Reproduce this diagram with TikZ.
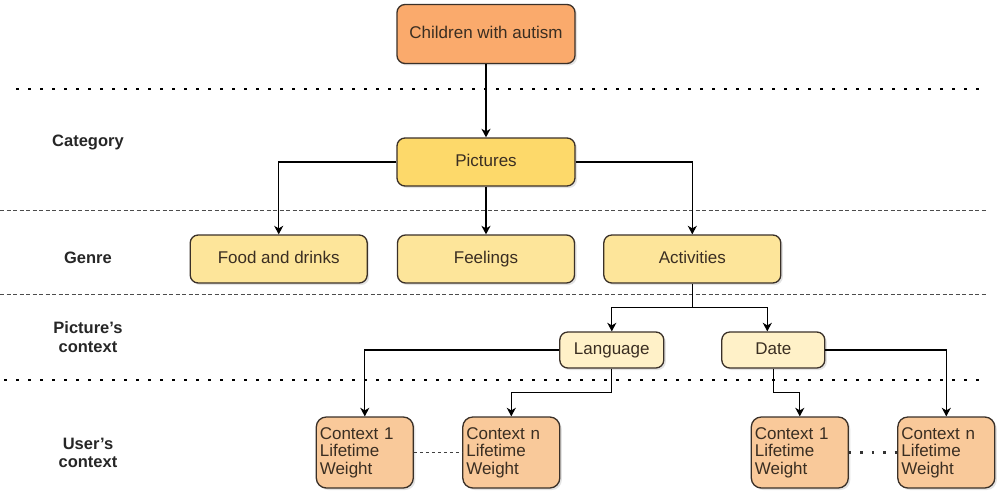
\documentclass[tikz,border=0pt]{standalone}
\usepackage{fontspec}
\setmainfont{Liberation Sans}
\usetikzlibrary{positioning,arrows.meta,shadows}
\usetikzlibrary{calc}

\definecolor{rootFill}{HTML}{FAAA6C}
\definecolor{categoryFill}{HTML}{FDD96A}
\definecolor{genreFill}{HTML}{FDE59A}
\definecolor{contextFill}{HTML}{FFF1C8}
\definecolor{userFill}{HTML}{F9C99A}
\definecolor{boxBorder}{HTML}{3A3028}
\definecolor{boxText}{HTML}{3A2E22}

\begin{document}
\begin{tikzpicture}
  \newdimen\gap
  \gap=47.7pt

  \tikzstyle{box} = [
    % The shape:
    rectangle, rounded corners=8pt,
    % The border:
    line width=1.3pt,
    draw=boxBorder,
    drop shadow={opacity=0.22, shadow xshift=2pt, shadow yshift=-2pt},
    % Font:
    text=boxText,
    font=\fontsize{17}{17.5}\selectfont
  ];
  \tikzstyle{oneLine} = [box, text height=12.4pt, text depth=3.6pt];
  \tikzstyle{rootBox} = [oneLine, fill=rootFill, minimum width=178pt, minimum height=59pt];
  \tikzstyle{categoryBox} = [oneLine, fill=categoryFill, minimum width=178pt, minimum height=48pt];
  \tikzstyle{genreBox} = [oneLine, fill=genreFill, minimum width=177pt, minimum height=48pt];
  \tikzstyle{contextBox} = [oneLine, fill=contextFill, minimum width=104pt, minimum height=36pt];
  \tikzstyle{userBox} = [
    box, fill=userFill, rounded corners=10pt,
    minimum height=71pt, text width=90pt, inner sep=3.5pt, align=left
  ];
  \tikzstyle{annotation} = [
    % Just text!
    font=\bfseries\fontsize{16.5}{18.5}\selectfont,
    text=black!85, align=center
  ];
  \tikzstyle{flow} = [
    draw = black,
    line width=1.3pt,
    -{Stealth[length=8.5pt,width=9pt,inset=2.5pt]}
  ];
  \tikzstyle{joiningFlow} = [
    draw = black,
    line width=1.3pt
  ];
  \tikzstyle{dottedRule} = [
    draw = black,
    line width=2.6pt,
    dash pattern=on 2.6pt off 9.4pt
  ];
  \tikzstyle{dashedRule} = [
    draw = black!70,
    line width=1.2pt,
    dash pattern=on 4pt off 2.5pt
  ];

  \useasboundingbox (0,0) rectangle (999pt,-495pt);

  % separators between the levels
  \path [dottedRule] (16pt,-89pt) to (983pt,-89pt);
  \path [dashedRule] (0pt,-210.5pt) to (986pt,-210.5pt);
  \path [dashedRule] (0pt,-294.5pt) to (986pt,-294.5pt);
  \path [dottedRule] (4pt,-380pt) to (983pt,-380pt);

  % level names
  \node [annotation] (categoryLabel) at (88pt,-142pt) {Category};
  \node [annotation] (genreLabel) at (88pt,-258pt) {Genre};
  \node [annotation] (pictureContextLabel) at (88pt,-337pt) {Picture's\\context};
  \node [annotation] (userContextLabel) at (88pt,-453pt) {User's\\context};

  \node [rootBox] (children) at (486pt,-34pt) {Children with autism};

  \node [categoryBox, below = 73.2pt of children] (pictures) {Pictures};

  \node [genreBox, below = \gap of pictures] (feelings) {Feelings};
  \node [genreBox, left = 29pt of feelings] (food) {Food and drinks};
  \node [genreBox, right = 28pt of feelings] (activities) {Activities};

  \node [contextBox, below = \gap of activities, xshift=-80.5pt] (language) {Language};
  \node [contextBox, below = \gap of activities, xshift=81pt, minimum width=103pt] (date) {Date};

  \node [userBox, below = \gap of language, xshift=-247pt] (languageFirst) {Context 1\\Lifetime\\Weight};
  \node [userBox, below = \gap of language, xshift=-100.5pt] (languageLast) {Context n\\Lifetime\\Weight};
  \node [userBox, below = \gap of date, xshift=26.5pt] (dateFirst) {Context 1\\Lifetime\\Weight};
  \node [userBox, below = \gap of date, xshift=173pt] (dateLast) {Context n\\Lifetime\\Weight};

  \path [flow] (children) to (pictures);
  \path [flow] (pictures.west) -| (food.north);
  \path [flow] (pictures) to (feelings);
  \path [flow] (pictures.east) -| (activities.north);

  \coordinate (activitiesSplit) at ($(activities.south)+(0,-24pt)$);
  \path [joiningFlow] (activities.south) to (activitiesSplit);
  \path [flow] (activitiesSplit) -| (language.north);
  \path [flow] (activitiesSplit) -| ([xshift=-6pt]date.north);

  \path [flow] (language.west) -| (languageFirst.north);
  \path [flow] (language.south) to ++(0,-24pt) -| (languageLast.north);
  \path [flow] (date.south) to ++(0,-24pt) -| (dateFirst.north);
  \path [flow] (date.east) -| (dateLast.north);

  \path [draw=black!75, line width=1pt, dash pattern=on 3.5pt off 2.5pt]
    (languageFirst.east) to (languageLast.west);
  \path [draw=black!80, line width=2.4pt, dash pattern=on 2.4pt off 9pt]
    (dateFirst.east) to (dateLast.west);
\end{tikzpicture}
\end{document}
